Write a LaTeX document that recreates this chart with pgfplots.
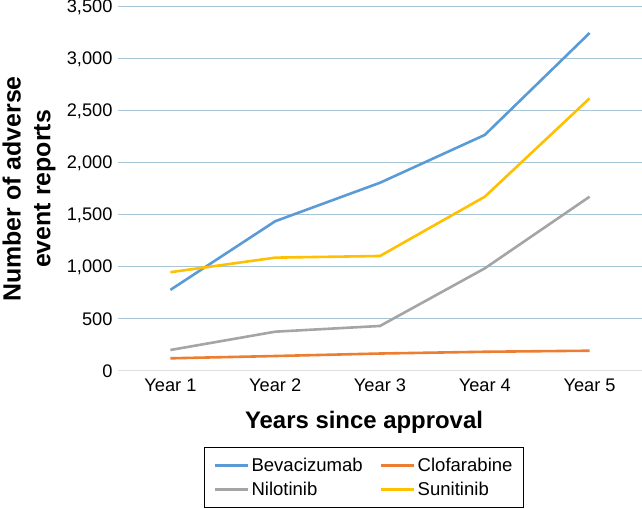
\documentclass[border=0pt]{standalone}
\usepackage{fontspec}
\setmainfont{Liberation Sans}
\usepackage{pgfplots}
\pgfplotsset{compat=1.18}
\definecolor{cBev}{HTML}{5B9BD5}
\definecolor{cClo}{HTML}{ED7D31}
\definecolor{cNil}{HTML}{A5A5A5}
\definecolor{cSun}{HTML}{FFC000}
\definecolor{gridc}{HTML}{A9C6D6}
\begin{document}
\begin{tikzpicture}
\useasboundingbox (0,0) rectangle (642bp,509bp);
\begin{axis}[
  at={(118bp,138bp)}, anchor=south west,
  scale only axis, width=524bp, height=364bp,
  xmin=0.5, xmax=5.5, ymin=0, ymax=3500,
  xtick={1,2,3,4,5},
  xticklabels={Year 1,Year 2,Year 3,Year 4,Year 5},
  ytick={500,1000,...,3500},
  extra y ticks={0},
  extra y tick style={grid style={black!13, line width=1bp}},
  ymajorgrids,
  grid style={gridc, line width=1bp},
  axis line style={draw=none},
  major tick length=0pt,
  clip=false,
  /pgf/number format/assume math mode=true,
  /pgf/number format/1000 sep={,},
  scaled y ticks=false,
  tick label style={font=\fontsize{18.3}{21}\selectfont},
  yticklabel style={xshift=-2bp},
  xticklabel style={yshift=-4bp},
  xlabel={Years since approval},
  xlabel style={font=\fontsize{24}{28}\selectfont\bfseries, at={(axis description cs:0.4695,-0.1566)}, anchor=base},
  ylabel={Number of adverse\\event reports},
  ylabel style={font=\fontsize{25}{30}\selectfont\bfseries, align=center, rotate=0, at={(axis description cs:-0.1698,0.5)}, anchor=center},
  legend columns=2,
  legend cell align=left,
  legend style={at={(axis description cs:0.4695,-0.2926)}, anchor=center,
    draw=black, line width=1bp, font=\fontsize{18.6}{22}\selectfont,
    inner xsep=9bp, inner ysep=9bp, row sep=5bp,
    /tikz/every even column/.append style={column sep=15bp}},
  legend image code/.code={\draw[#1, line width=3bp] (0bp,0bp) -- (33bp,0bp);},
  every axis plot/.append style={line width=2.6bp},
]
\addplot[cBev] coordinates {(1,780) (2,1440) (3,1810) (4,2270) (5,3250)};
\addlegendentry{Bevacizumab}
\addplot[cClo] coordinates {(1,122) (2,144) (3,168) (4,185) (5,195)};
\addlegendentry{Clofarabine}
\addplot[cNil] coordinates {(1,202) (2,378) (3,433) (4,987) (5,1676)};
\addlegendentry{Nilotinib}
\addplot[cSun] coordinates {(1,950) (2,1090) (3,1106) (4,1676) (5,2622)};
\addlegendentry{Sunitinib}
\end{axis}
\end{tikzpicture}
\end{document}
